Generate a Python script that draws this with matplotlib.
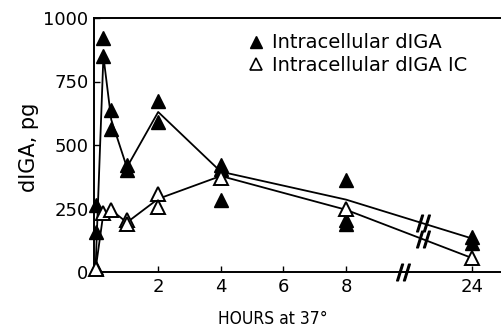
import numpy as np
import matplotlib.pyplot as plt
from matplotlib.lines import Line2D

# scattered measurements (hours, pg)
filled_t = [0, 0, 0, 0.25, 0.25, 0.5, 0.5, 1, 1, 2, 2, 4, 4, 4, 8, 8, 8, 24, 24]
filled_v = [264, 157, 15, 920, 850, 638, 562, 421, 402, 674, 592, 420, 405, 283, 362, 205, 190, 139, 114]
open_t = [0, 0.25, 0.5, 1, 1, 2, 2, 4, 8, 24]
open_v = [10, 232, 244, 205, 190, 307, 255, 370, 248, 55]

# connecting lines
line_t = [0, 0.25, 0.5, 1, 2, 4, 8, 24]
filled_line = [15, 850, 600, 412, 630, 395, 285, 132]
open_line = [10, 232, 244, 195, 288, 378, 245, 55]

xticks = [2, 4, 6, 8, 24]
yticks = [0, 250, 500, 750, 1000]


def pos(h):
    # broken axis: 0-8 h linear, 24 h squeezed in at 12
    return np.interp(h, [0, 8, 24], [0.05, 8, 12])


plt.rcParams['font.family'] = 'DejaVu Sans'
fig = plt.figure(figsize=(5.01, 3.30), dpi=100)
ax = fig.add_axes([94 / 501, 1 - 272 / 330, 407 / 501, 254 / 330])

ax.plot(pos(line_t), filled_line, color='black', lw=1.3, zorder=2, clip_on=False)
ax.plot(pos(line_t), open_line, color='black', lw=1.3, zorder=2, clip_on=False)
ax.plot(pos(filled_t), filled_v, ls='none', marker='^', ms=9.5, color='black', zorder=3, clip_on=False)
ax.plot(pos(open_t), open_v, ls='none', marker='^', ms=9.5, mfc='white', mec='black', mew=1.4,
        zorder=3, clip_on=False)

# break marks on lines and axis
xb = 10.45
for ln in (filled_line, open_line):
    yb = np.interp(xb, pos(line_t), ln)
    ax.plot(xb, yb, marker='$//$', ms=12, color='black', zorder=4)
ax.plot(9.8, 0, marker='$//$', ms=12, color='black', zorder=4, clip_on=False)

ax.set_xlim(0, 12.92)
ax.set_ylim(0, 1000)
ax.set_xticks(pos(xticks))
ax.set_xticklabels([str(t) for t in xticks])
ax.set_yticks(yticks)
ax.tick_params(direction='in', length=4, width=1, labelsize=13, pad=4)
ax.spines['right'].set_visible(False)
for s in ('left', 'bottom', 'top'):
    ax.spines[s].set_linewidth(1.4)

ax.set_ylabel('dIGA, pg', fontsize=15)
ax.yaxis.set_label_coords(-0.135, 0.49)
ax.set_xlabel('HOURS at 37°', fontsize=12.5, fontstretch='condensed')
ax.xaxis.set_label_coords((273 - 94) / 407, -0.15)

handles = [
    Line2D([], [], ls='none', marker='^', ms=8, color='black'),
    Line2D([], [], ls='none', marker='^', ms=8, mfc='white', mec='black', mew=1.2),
]
ax.legend(handles, ['Intracellular dIGA', 'Intracellular dIGA IC'], loc='upper left',
          bbox_to_anchor=(0.36, 0.97), frameon=False, fontsize=14,
          handlelength=0.8, handletextpad=0.4, labelspacing=0.2, borderaxespad=0)

fig.savefig('out.png', dpi=100)
